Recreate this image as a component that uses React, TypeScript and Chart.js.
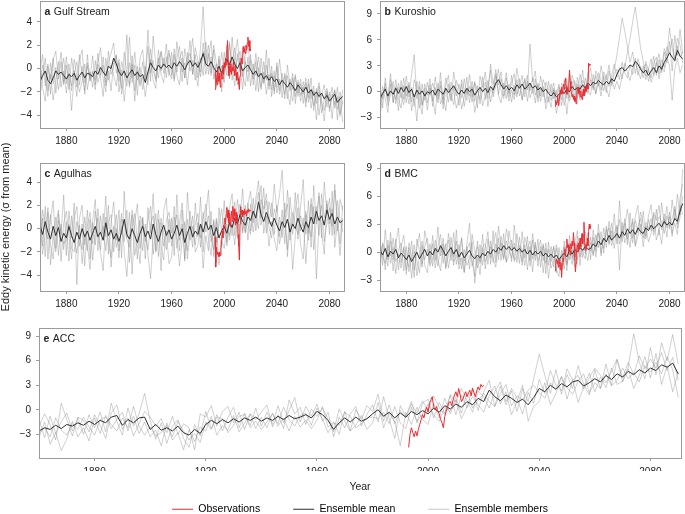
import React, { useEffect, useRef } from 'react';
import { Chart, registerables } from 'chart.js';

Chart.register(...registerables);

// ---------- axes / categories ----------
const YEARS = Array.from({ length: 116 }, (_, i) => 1860 + 2 * i);
const OBS_YEARS = Array.from({ length: 55 }, (_, i) => 1993 + 0.5 * i);
const X_TICKS = [1880, 1920, 1960, 2000, 2040, 2080];
const Y_TICKS_A = [-4, -2, 0, 2, 4];
const Y_TICKS_B = [-3, 0, 3, 6, 9];
const Y_TICKS_C = [-4, -2, 0, 2, 4];
const Y_TICKS_D = [-3, 0, 3, 6, 9];
const Y_TICKS_E = [-3, 0, 3, 6, 9];
const LEGEND_LABELS = ['Observations', 'Ensemble mean', 'Ensemble members'];

// ---------- a  Gulf Stream ----------
const GS_MEAN = [
  -1.1, -0.6, -0.2, -1.0, -1.3, -0.8, -0.2, -0.5, -0.3, -0.6,
  -0.9, -0.5, -0.7, -0.4, -1.0, -0.6, -0.3, -0.8, -0.4, -0.5,
  -0.7, -0.2, -0.5, 0.1, -0.3, -0.6, 0.2, 0.0, 0.9, 0.4,
  -0.3, -0.6, -0.2, -0.8, -0.4, -0.1, -0.6, -0.3, -0.7, -0.5,
  -1.2, -0.3, 0.5, 0.1, -0.2, 0.3, 0.0, 0.4, 0.1, 0.3,
  0.0, 0.5, 0.2, 0.6, 0.3, -0.1, 0.4, 0.7, 0.2, 0.5,
  0.1, 0.6, 1.3, 0.4, 0.2, 0.6, 0.1, -0.3, 0.2, -0.4,
  0.2, 0.8, 0.3, 1.0, 0.4, 0.0, 0.5, -0.2, 0.1, 0.3,
  -0.1, -0.5, -0.2, -0.7, -0.4, -0.9, -0.6, -1.0, -0.7, -1.1,
  -0.9, -1.4, -1.0, -1.3, -1.6, -1.2, -1.5, -1.9, -1.4, -1.7,
  -2.0, -1.6, -2.1, -1.8, -2.3, -2.0, -2.4, -2.1, -2.6, -2.3,
  -2.8, -2.5, -2.2, -2.9, -2.6, -2.4,
];
const GS_M1 = [
  -0.3, 1.2, -1.5, 0.4, -2.2, 0.8, 1.5, -0.9, 0.6, -1.4,
  0.3, -1.8, 0.9, -0.6, -2.4, 0.7, 1.6, -1.2, 0.2, -0.8,
  1.1, -1.4, 0.5, 1.8, -0.9, -2.0, 0.6, 1.3, 2.2, -0.4,
  0.8, -1.7, 1.4, -0.5, 2.7, -1.2, 0.3, -2.3, 0.9, 1.6,
  -0.7, 1.9, -1.1, 2.8, 0.4, -0.8, 1.5, 0.2, 2.1, -0.6,
  1.4, -0.9, 2.3, 0.5, -1.1, 1.7, 0.3, 2.4, -0.5, 1.2,
  -0.8, 1.9, 5.3, 0.7, 2.0, -0.4, 1.6, -1.2, 0.8, -0.9,
  1.4, -0.6, 2.1, 0.4, -1.5, 1.3, -0.3, 1.8, 0.5, -1.1,
  1.2, -1.4, 0.6, -2.0, 0.9, -1.2, 1.6, -1.8, 0.2, -2.2,
  0.5, -1.9, -0.4, -2.6, 0.3, -1.5, -2.8, -0.7, -2.1, -0.9,
  -3.0, -1.2, -2.5, -0.8, -3.6, -1.7, -4.0, -2.2, -1.4, -3.3,
  -2.0, -4.3, -1.8, -3.5, -2.4, -4.6,
];
const GS_M2 = [
  -2.3, -0.8, 0.9, -1.9, -0.5, -2.7, -1.0, 0.6, -1.6, -0.2,
  -2.1, -0.4, -1.5, 0.8, -0.7, -2.0, -1.1, 0.4, -1.8, -0.3,
  -1.6, 0.7, -1.2, -0.4, 1.0, -1.5, -0.2, -1.9, 0.5, 1.2,
  -2.0, -0.1, -2.8, -0.6, -1.4, 1.1, -1.9, -0.2, -1.5, -0.7,
  -2.4, -0.6, 0.8, -1.0, -1.7, 0.9, -0.5, -1.2, 1.0, -0.3,
  -0.9, 1.2, -0.6, -1.4, 0.9, -0.8, 1.4, -0.2, 0.7, -1.0,
  0.6, -0.7, 1.5, -0.5, 0.9, 2.4, -0.9, 0.4, -1.3, 0.2,
  -1.2, 2.0, -0.8, 0.6, 1.8, -1.4, 0.9, -0.6, -1.5, 1.0,
  -1.5, 0.4, -1.9, 0.1, -1.6, -0.3, -2.2, -0.5, -1.8, -0.2,
  -2.1, -0.9, -2.5, -0.4, -2.0, -3.1, -0.8, -2.4, -1.2, -2.8,
  -1.1, -2.9, -1.3, -3.4, -1.9, -3.0, -1.5, -3.8, -2.6, -1.7,
  -3.7, -2.2, -3.1, -1.6, -3.9, -2.9,
];
const GS_M3 = [
  0.6, -1.7, -2.8, 0.2, -0.9, 0.9, -2.1, -0.3, 1.4, -1.2,
  1.0, -0.9, -3.6, -0.5, 0.6, -1.4, 0.2, -2.2, 1.2, -1.0,
  -0.3, -1.8, 0.4, -0.8, -2.4, 0.9, -1.0, 0.3, -0.6, -1.5,
  0.5, -2.2, -0.9, 2.9, -1.6, 0.4, -2.8, 0.2, -1.3, 0.6,
  -1.0, 3.3, -0.4, 0.7, -1.1, 1.6, -0.2, 0.9, -0.8, 1.3,
  0.4, -1.1, 0.9, 1.9, -0.3, 0.5, -1.4, 0.8, 2.6, -0.2,
  -1.5, 0.9, -0.6, 2.3, -0.5, 1.0, -0.2, -1.6, 1.1, -2.0,
  -0.4, 0.5, 2.3, -1.0, 0.9, 2.5, 0.1, -1.8, 1.2, 2.0,
  0.1, -0.9, 1.3, -0.4, -1.8, 0.6, -1.0, 0.9, -2.4, -0.6,
  -1.6, 0.8, -1.2, -2.2, -0.6, -1.9, -0.4, -3.0, -1.0, -2.3,
  -1.6, -3.3, -0.9, -2.6, -1.5, -4.4, -2.0, -3.0, -4.5, -1.9,
  -2.7, -1.6, -3.4, -2.4, -4.1, -1.8,
];
const GS_M4 = [
  -1.6, 0.3, -0.7, -2.4, 0.5, -1.3, 0.1, -1.8, -0.4, 0.9,
  -1.3, 0.4, -1.9, -0.2, -1.6, 1.2, -0.6, -1.9, 0.5, -1.1,
  -0.2, -1.0, 1.3, -0.6, 0.3, -1.2, 1.5, -0.5, 0.2, 1.1,
  -1.1, 0.6, -0.4, -1.5, 0.5, -0.8, 1.4, -1.0, 0.1, -1.8,
  0.2, -1.4, 1.7, -0.2, -0.9, 0.6, 1.4, -0.4, 0.5, 1.6,
  -0.6, 1.7, -0.3, 0.8, 1.5, -0.8, 0.9, 1.3, -0.5, 1.8,
  0.7, -0.3, 2.2, 0.2, 1.3, -0.6, 2.0, 0.5, -0.5, 1.4,
  -0.2, 1.6, -0.9, 2.7, -0.1, 0.8, 1.5, -0.7, 0.6, -0.3,
  0.7, 0.2, -0.6, 1.0, -0.8, -1.3, 0.3, -1.5, -0.4, -1.9,
  0.2, -2.2, -1.4, -0.6, -2.6, -0.9, -1.8, -0.5, -2.4, -1.3,
  -2.2, -0.8, -2.9, -1.8, -3.2, -2.4, -1.2, -2.8, -3.6, -2.1,
  -3.4, -2.4, -1.9, -4.4, -2.0, -3.0,
];
const GS_OBS = [
  -1.8, -0.3, -0.9, -1.4, 0.1, -0.6, -1.1, -0.4, -1.6, -1.0,
  -0.2, -0.9, 0.3, -0.5, 0.5, 0.1, 0.9, 0.3, 1.4, 2.4,
  0.6, -0.6, 0.2, -0.3, 0.4, -0.5, 0.1, -0.2, 0.6, -0.1,
  -0.6, 0.2, -0.4, -1.0, -0.3, -0.8, -1.3, -1.8, -0.6, 0.3,
  0.9, 0.4, 1.1, 1.9, 1.4, 1.7, 1.3, 2.0, 1.6, 2.2,
  2.7, 1.9, 2.4, 1.5, 1.7,
];

// ---------- b  Kuroshio ----------
const KU_MEAN = [
  -0.8, -0.2, 0.3, -0.5, 0.1, -0.3, 0.4, -0.2, 0.5, 0.0,
  0.6, -0.1, 0.3, -0.6, 0.2, -0.3, 0.1, -0.5, 0.0, -0.2,
  0.2, -0.4, 0.3, 0.0, -0.3, 0.4, -0.1, 0.3, 0.7, 0.1,
  -0.3, 0.2, -0.2, 0.4, 0.0, 0.3, -0.4, 0.1, 0.5, 0.0,
  0.4, -0.1, 0.6, 0.2, 1.0, 1.4, 0.8, 0.3, 0.7, 0.2,
  0.5, 0.1, 0.8, 0.4, 0.9, 0.3, 0.6, 1.0, 0.4, 0.7,
  0.2, 0.5, 0.0, 0.3, -0.2, -0.5, -0.1, -0.6, -0.3, 0.0,
  -0.2, 0.3, 0.0, 0.6, 0.2, 0.5, 0.3, 0.8, 0.4, 1.0,
  0.7, 1.1, 0.9, 1.3, 1.0, 0.8, 1.2, 0.9, 1.5, 1.2,
  2.0, 2.6, 2.8, 2.4, 2.7, 3.1, 2.9, 3.5, 3.2, 2.6,
  2.2, 2.5, 1.9, 2.4, 2.8, 2.2, 3.0, 2.6, 3.4, 3.9,
  4.5, 4.0, 3.6, 4.8, 4.1, 3.8,
];
const KU_M1 = [
  0.8, -1.9, 1.6, -0.7, 2.1, -1.3, 0.6, -2.2, 1.3, -0.9,
  1.8, -0.6, 2.0, 4.3, -0.8, 1.2, -1.6, 0.9, -0.4, 1.5,
  -1.1, 1.7, -0.5, 2.2, -1.4, 0.8, 1.9, -0.9, 2.3, 0.3,
  -1.6, 1.4, 0.2, -1.0, 2.0, -0.6, 1.2, -1.9, 1.8, 0.5,
  2.3, -0.8, 3.2, 0.9, 2.6, -0.3, 1.5, 0.4, 2.2, -0.6,
  1.9, -0.4, 2.7, 0.8, -0.9, 1.6, 0.2, 5.5, 1.1, 2.4,
  -0.7, 1.8, 0.3, -1.3, 1.2, -0.2, 1.0, -1.5, 0.6, -0.9,
  1.4, -0.8, 2.1, 0.4, -1.2, 1.7, 0.2, 2.5, -0.3, 1.6,
  2.8, 0.2, 1.9, 0.6, 3.0, 1.2, -0.1, 2.4, 1.0, 2.6,
  4.2, 6.3, 8.5, 7.0, 5.2, 3.4, 4.6, 2.1, 3.8, 2.7,
  1.6, 3.2, 1.2, 2.5, 4.1, 1.9, 3.7, 2.2, 4.6, 3.3,
  5.8, 2.4, 6.5, 4.2, 7.2, 4.4,
];
const KU_M2 = [
  -1.7, 0.6, -0.9, -2.4, 0.9, -1.2, 1.4, -0.8, -1.9, 0.7,
  -1.3, 1.1, -2.2, -0.4, -3.4, 0.6, -1.5, -0.2, -2.1, 0.4,
  -0.8, -2.6, 1.0, -1.4, -0.6, -2.2, 0.9, -0.3, -1.5, 1.3,
  0.4, -2.0, -0.6, 1.7, -1.3, 0.6, -2.4, -0.8, 0.5, -1.6,
  -0.5, 1.3, -1.2, 0.4, 2.1, -0.4, -1.3, 1.0, -0.8, 0.9,
  -1.2, 0.7, -0.6, 1.5, -1.0, 0.5, 1.9, -0.7, 0.3, -1.3,
  1.0, -1.1, 0.6, -2.0, -0.6, -1.8, 0.4, -2.5, -1.0, 0.6,
  -1.6, 0.8, -1.1, -0.2, 1.3, -0.8, 0.7, -0.5, 1.6, 0.1,
  -0.4, 2.0, -0.2, 1.1, -0.5, 1.8, 0.4, -0.6, 1.5, 0.3,
  1.2, 0.3, 1.8, 2.9, 4.5, 6.2, 8.1, 9.8, 7.4, 5.1,
  3.5, 1.8, 2.7, 1.1, 2.0, 3.4, 1.5, 2.9, 2.3, 4.0,
  3.0, -1.0, 2.6, 3.9, 2.2, 3.1,
];
const KU_M3 = [
  0.2, -0.8, 1.0, -1.6, -0.3, 1.2, -1.4, 0.5, -0.7, 1.6,
  -0.5, 0.8, -1.2, 1.4, 0.1, -1.9, 0.9, -1.0, 1.1, -0.4,
  1.0, 0.1, -1.3, 1.2, -0.8, 1.6, 0.3, -1.1, 0.6, -0.5,
  0.9, -0.7, 1.5, -0.3, 0.6, -1.2, 1.0, 0.2, -0.9, 1.7,
  -0.9, 0.6, 2.5, -0.6, 0.7, 2.6, 0.1, -0.8, 1.6, -0.2,
  1.0, 2.1, -0.3, 0.6, 1.9, -0.6, 1.2, 0.1, 1.6, -0.4,
  0.8, -0.5, 1.4, 0.5, -1.2, 0.9, -0.8, 0.2, -1.4, 1.0,
  0.3, 1.5, -0.7, 1.9, 0.7, -0.4, 2.0, 0.6, -0.3, 2.2,
  1.2, 0.4, 2.4, 1.6, 0.2, 2.3, 1.4, 3.1, 0.7, 2.0,
  2.6, 1.4, 3.4, 2.2, 1.6, 3.0, 2.0, 3.9, 2.4, 1.5,
  3.0, 1.4, 2.6, 3.8, 1.9, 3.2, 4.4, 2.5, 5.0, 4.1,
  7.4, 5.0, 3.8, 6.2, 5.4, 3.3,
];
const KU_M4 = [
  -2.9, -0.4, 0.5, -1.1, 1.4, 0.2, -0.9, 1.0, -0.3, -1.5,
  0.6, -1.4, 0.5, -1.7, 1.2, -0.9, -2.6, 0.4, -1.3, 0.8,
  -1.7, 0.5, -0.9, 0.7, -2.0, 0.3, -1.2, 1.1, 0.0, -1.9,
  -0.8, 0.9, -1.7, 0.3, -0.5, 1.2, -1.1, 0.7, -1.4, 0.2,
  1.1, -1.7, 0.3, -0.2, 1.8, 0.8, 2.3, -0.5, 0.4, -1.1,
  0.2, -0.9, 1.4, -0.5, 0.7, 1.3, -1.1, 0.9, -0.2, 1.5,
  -1.2, 0.4, -0.6, 1.1, 0.3, -1.0, 0.2, -0.4, 0.9, -1.6,
  0.5, -2.6, 0.4, 1.2, -0.6, 0.9, -1.0, 1.3, 0.8, -0.2,
  1.4, 0.9, -0.3, 2.2, 1.3, 0.1, 2.0, 0.6, 1.9, 3.2,
  1.7, 2.8, 1.5, 3.3, 2.2, 1.3, 2.7, 3.6, 1.9, 2.9,
  2.1, 3.5, 2.4, 1.6, 3.3, 4.0, 2.1, 3.7, 2.8, 5.2,
  4.4, 6.1, 3.5, 5.3, 4.0, 4.6,
];
const KU_OBS = [
  -1.7, -1.0, -1.5, -1.2, -0.4, -1.6, -1.1, -0.5, 0.2, -0.3,
  0.5, -0.2, 0.4, 0.9, 0.3, 1.0, 1.6, 0.6, -0.3, 0.4,
  0.0, 0.8, 2.5, 1.2, 0.3, -0.1, -0.6, -0.3, -0.9, -0.5,
  -1.1, -0.7, -1.4, -0.4, 0.2, 0.5, -0.2, 0.3, -0.6, 0.1,
  -0.4, -0.9, -0.2, 0.3, -0.5, 0.1, 0.6, 0.0, 0.4, 0.8,
  0.3, 3.3, 3.0, 3.2, 3.1,
];

// ---------- c  Agulhas ----------
const AG_MEAN = [
  0.3, -0.5, 0.6, -0.3, -0.9, 0.2, -0.6, 0.1, -1.1, -0.4,
  -0.8, 0.2, -0.6, -1.2, -0.3, -0.9, 0.0, -0.7, -0.2, -1.0,
  -0.4, 0.2, -0.7, -0.3, -1.0, 0.5, -0.6, -0.1, -0.9, -0.4,
  -1.1, -0.3, 0.8, -0.5, -0.9, 0.0, -0.6, -1.2, -0.4, 0.2,
  -0.7, -0.2, -0.9, 0.4, -0.5, -1.1, -0.3, 0.3, -0.6, -0.1,
  -0.9, -0.4, 0.3, -0.6, 0.0, -1.2, -0.4, 0.2, -0.7, -0.2,
  -0.5, 0.4, -0.3, 0.6, -0.1, 0.3, -0.6, 0.1, -0.8, -0.2,
  0.2, -0.4, 0.5, 0.1, 0.9, 0.4, 1.2, 0.6, 0.3, 1.0,
  0.7, 1.5, 0.9, 2.3, 1.2, 0.6, 1.4, 0.8, 0.2, 0.9,
  0.3, -0.2, 0.6, 0.1, 0.8, -0.3, 0.4, 0.0, 0.9, 0.2,
  -0.3, 0.6, 0.1, 1.0, 0.4, 1.5, 0.7, 1.1, 0.3, 1.6,
  0.8, 1.3, 0.4, 1.0, 0.5, 0.7,
];
const AG_M1 = [
  2.8, -1.5, 1.9, -2.6, 0.8, 2.4, -1.7, 1.3, -0.5, 2.9,
  -2.3, 1.5, -0.8, 2.2, -4.8, 0.9, 2.0, -1.4, 1.6, -2.6,
  0.7, 2.5, -1.9, 1.1, -0.6, 2.8, -2.2, 0.5, 2.3, -1.0,
  1.6, -2.5, 3.2, -0.8, 1.4, -3.9, 0.6, 2.1, -1.7, 1.0,
  -2.6, 1.8, -0.4, 3.0, -1.9, 0.8, -3.6, 1.5, 2.6, -1.2,
  0.9, -2.3, 2.9, -1.0, 1.6, -2.8, 3.1, 0.3, -1.6, 2.2,
  -0.7, 2.7, -2.0, 1.3, 3.3, -1.1, 0.6, -2.9, 1.8, -0.3,
  2.4, -1.5, 1.8, 3.0, -0.6, 2.5, 0.9, 3.4, -0.3, 2.1,
  3.2, 0.5, 2.6, 4.1, 0.9, 3.5, -0.4, 2.3, 1.0, 3.8,
  1.4, 2.9, 5.0, 0.6, -1.8, 2.7, 0.2, 3.1, -0.9, 1.9,
  4.2, -0.5, 2.4, -1.6, 3.7, 0.4, 2.8, -0.8, 4.0, 1.3,
  2.6, -0.6, 3.3, 1.2, -1.3, 2.0,
];
const AG_M2 = [
  -1.2, 0.9, -2.4, 1.4, -3.1, -0.6, 1.0, -2.3, 0.4, -1.8,
  0.6, -2.8, 1.1, -0.9, -2.1, 0.3, -3.0, -0.5, -1.9, 0.8,
  -2.7, -0.4, 0.9, -2.1, -3.6, 1.0, -1.2, -2.5, 0.2, -1.6,
  -0.4, 1.3, -2.0, -4.1, -0.6, 1.2, -2.3, -0.8, 0.7, -1.9,
  0.4, -2.2, -4.3, -0.7, 1.3, -2.4, 0.5, -1.5, -0.2, -3.0,
  -2.5, 1.0, -0.8, -3.2, -1.1, 0.6, -2.6, -0.4, 1.1, -2.0,
  -1.4, 0.3, -3.4, -0.6, -1.9, 1.5, -2.4, 0.7, -3.1, -1.0,
  -1.7, 0.4, -1.0, 1.1, 2.3, -0.8, 1.6, -0.2, 2.0, 0.3,
  -0.5, 2.6, -0.2, 1.9, 3.7, -0.4, 1.1, -1.5, 0.6, -0.9,
  -1.9, 1.0, -0.8, 2.2, -2.4, 0.5, -3.5, -0.6, 1.8, -1.4,
  -2.6, 1.2, -1.0, 2.1, -1.8, 0.7, 3.1, -0.3, -2.2, 2.4,
  -0.5, 3.2, -1.6, 0.6, -2.3, 0.9,
];
const AG_M3 = [
  0.8, -2.2, -0.4, 1.8, -1.4, -2.6, 0.3, 1.6, -2.8, 0.5,
  1.5, -0.6, -2.6, 0.9, 1.9, -1.5, 0.4, -3.2, 0.2, 1.4,
  -1.3, 1.5, -0.4, -1.8, 1.3, -0.7, 2.0, -3.3, -0.4, 1.2,
  -1.9, 0.2, -1.1, 1.6, -2.9, 0.1, 1.3, -1.0, -3.0, 0.9,
  -1.1, 0.7, 1.9, -2.2, -0.3, 1.6, -1.5, -2.7, 0.7, 1.4,
  -0.4, 1.9, -1.7, 0.5, 2.2, -0.6, -1.9, 1.5, -0.8, 0.4,
  1.3, -1.6, 0.8, 2.1, -0.9, -2.3, 0.8, -1.2, 0.3, 1.7,
  -0.5, 1.9, -0.6, 0.4, -1.4, 1.0, 2.1, -0.4, 1.4, -1.0,
  2.1, -0.3, 1.2, 0.0, 2.5, 1.7, 3.0, 0.4, 2.2, -0.5,
  2.0, -0.7, 1.6, -1.3, 3.3, 1.0, -0.5, 1.5, 3.0, -0.2,
  0.9, -3.0, 0.2, -0.7, 1.9, -4.3, 0.5, 2.0, -1.1, 0.4,
  1.8, 0.2, 3.8, -0.2, 2.5, 1.6,
];
const AG_M4 = [
  -2.5, 1.6, 0.2, -0.9, 1.2, -0.7, -2.0, 0.7, -0.3, -1.3,
  -1.0, 0.4, -1.7, -2.0, 0.6, -0.7, -1.8, 1.0, -1.3, -3.5,
  0.5, -1.4, 1.7, -0.5, 0.2, -1.9, 0.6, 1.2, -2.0, 0.0,
  -2.5, 0.8, 0.4, -0.9, -1.6, 1.6, -0.2, -2.6, 1.1, 0.4,
  -0.6, -1.8, 0.3, 1.1, -2.0, -0.5, 0.9, -0.4, -1.8, 0.8,
  -1.5, 0.1, 1.2, -1.9, 0.4, -2.6, 0.8, -1.0, 0.2, -1.4,
  0.5, -0.8, 1.4, -0.3, 1.1, -0.7, -1.8, 0.9, -0.4, -1.6,
  0.9, -1.2, 0.8, -0.6, 1.7, 0.3, 0.5, 1.4, -0.4, 2.2,
  -0.2, 1.2, 2.0, 3.1, 0.3, 1.6, 2.4, 0.1, -0.8, 1.7,
  0.6, -1.3, 0.0, 1.3, 2.1, -1.0, 1.4, 0.3, -0.5, 1.1,
  0.1, 1.5, -0.4, 2.6, 0.7, 1.9, -0.6, 3.0, 0.9, 2.1,
  0.4, 1.7, -0.5, 2.4, 0.8, -0.3,
];
const AG_OBS = [
  -0.7, -3.3, -1.6, -2.0, -2.2, -2.1, -2.4, -2.0, -2.3, -1.6,
  -1.0, -0.2, -0.8, 0.3, 0.0, 0.9, 0.4, 1.2, 1.8, 0.9,
  1.6, 0.5, 1.3, 0.2, 1.0, 1.5, 0.6, 1.9, 0.8, 1.7,
  1.1, 0.3, 1.4, 0.6, 1.2, -0.5, -1.5, -2.7, 0.4, 1.9,
  1.2, 1.6, 1.0, 1.5, 1.2, 1.7, 1.3, 1.5, 1.1, 1.6,
  1.4, 1.7, 1.5, 1.6, 1.5,
];

// ---------- d  BMC ----------
const BMC_MEAN = [
  0.2, -0.3, 0.4, -0.5, 0.1, -0.2, 0.3, -0.6, -0.1, -0.4,
  -0.8, -0.3, -1.0, -0.5, 0.0, -0.7, -0.2, 0.3, -0.4, 0.1,
  -0.3, 0.4, 0.0, 0.7, 0.2, -0.4, 0.1, 0.5, -0.2, 0.3,
  -0.5, 0.0, -0.6, -0.2, 0.2, -0.4, -0.7, -0.3, -0.6, -0.1,
  -0.4, 0.1, -0.2, 0.3, 0.0, 0.5, 0.2, 0.7, 0.3, 0.6,
  0.2, 0.5, 0.1, 0.4, 0.0, 0.3, -0.2, 0.2, -0.3, 0.1,
  -0.2, 0.1, -0.4, -0.1, -0.5, -0.2, -0.6, -0.3, -0.8, -0.4,
  -0.1, -0.5, 0.2, -0.2, 0.3, 0.0, 0.5, 0.2, 0.6, 0.3,
  0.4, 0.9, 0.6, 1.2, 0.8, 1.5, 1.1, 1.8, 1.3, 1.6,
  2.0, 1.5, 2.2, 1.8, 2.5, 2.0, 2.4, 1.9, 2.6, 2.2,
  2.0, 2.6, 2.3, 2.9, 2.5, 2.8, 3.1, 2.7, 3.3, 2.9,
  3.2, 2.9, 3.6, 3.3, 4.4, 5.2,
];
const BMC_M1 = [
  1.5, -1.4, 2.4, -0.8, 1.2, -2.0, 0.9, 2.6, -1.1, 0.6,
  -2.4, 1.0, -0.5, -2.7, 1.4, 0.2, -1.6, 2.3, 0.8, -1.2,
  1.8, -0.9, 2.7, -0.4, 1.5, -1.8, 2.0, 0.3, -1.4, 2.4,
  -1.3, 1.6, -2.1, 0.9, 3.1, -0.9, -2.6, 1.2, -1.0, 1.9,
  -1.8, 1.4, -0.6, 2.3, -1.1, 2.8, 0.6, -0.8, 2.5, 1.0,
  -1.0, 2.9, 0.4, -1.2, 2.2, -0.6, 1.7, -1.5, 1.3, -0.9,
  1.4, -1.6, 0.9, -2.3, 1.1, -1.0, 0.7, -2.2, 0.5, -1.7,
  1.2, -2.0, 1.8, -0.7, 1.0, 2.3, -1.4, 1.9, -0.2, 2.1,
  -0.8, 2.4, 0.1, 3.0, -0.4, 2.6, 0.5, 3.3, 1.2, 4.1,
  0.9, 5.5, 1.6, 3.6, 0.8, 4.2, 1.5, 3.8, 5.0, 1.9,
  4.4, 1.7, 3.9, 5.1, 2.2, 4.6, 1.8, 5.3, 3.0, 4.9,
  2.5, 5.6, 3.4, 6.2, 4.0, 8.9,
];
const BMC_M2 = [
  -0.9, 0.8, -1.9, 1.3, -1.2, 0.5, -2.3, 0.2, 1.0, -2.0,
  0.6, -2.1, -0.7, 0.8, -2.5, -0.4, 1.2, -1.4, -2.2, 0.9,
  -1.5, 1.3, -0.8, -2.0, 0.9, -1.6, -0.3, 1.6, -1.0, -0.5,
  0.8, -1.8, 0.3, -1.4, -0.7, 1.1, -3.3, -0.5, -2.4, 0.6,
  0.9, -1.3, 1.2, -0.7, -1.6, 1.5, -0.9, 2.0, -1.1, -0.2,
  1.3, -1.0, -0.4, 1.6, -1.4, 0.8, -1.9, 0.6, -2.1, 1.1,
  -1.5, 0.6, -2.2, 0.4, -2.8, -0.6, 0.5, -1.8, -2.6, 0.2,
  -1.8, 0.8, -0.8, 0.3, -1.6, 1.1, -0.5, 1.5, 0.2, -0.9,
  1.6, -0.2, 1.9, 0.5, 2.2, -0.1, 2.8, 0.8, 2.3, 0.4,
  2.7, -1.9, 3.2, 1.0, 2.1, 0.5, 3.6, 0.6, 1.7, 3.0,
  0.6, 2.8, 1.1, 2.0, 4.0, 1.3, 2.4, 0.9, 3.6, 1.6,
  4.3, 2.0, 3.1, 1.9, 5.0, 4.0,
];
const BMC_M3 = [
  -1.8, 1.0, 0.3, -1.5, 2.1, -0.8, 1.4, -1.9, 0.5, 1.8,
  -0.7, -1.6, 1.2, -1.9, 0.4, 2.0, -1.3, 0.6, 1.5, -0.8,
  0.9, -1.7, 0.6, 1.9, -1.2, 0.7, 1.3, -0.9, 2.1, -1.3,
  0.3, 1.4, -1.0, 0.6, -1.8, 1.9, 0.2, -1.7, 0.8, -1.4,
  0.6, 2.2, -1.3, 1.0, 2.1, -0.8, 1.7, 0.1, -1.0, 2.3,
  0.5, -0.8, 2.0, 0.1, -1.0, 1.6, 0.5, -0.9, 2.0, -0.4,
  0.2, 1.3, -0.9, 1.0, -1.4, 0.6, -1.6, 0.8, -0.6, -1.9,
  0.4, -1.2, 1.0, 0.6, -0.9, 1.7, 0.8, -0.6, 2.2, 1.0,
  0.1, 1.6, -0.5, 2.0, 1.3, 0.4, 2.5, 1.0, 3.1, 1.5,
  1.8, 3.5, 1.1, 2.8, 4.6, 2.4, 1.0, 3.4, 2.1, 4.3,
  2.9, 1.4, 3.5, 2.3, 4.3, 3.4, 5.0, 2.4, 4.1, 2.6,
  3.8, 1.7, 4.9, 3.0, 5.8, 7.3,
];
const BMC_M4 = [
  0.9, -0.5, -1.2, 0.7, -0.4, 1.5, -1.0, -0.2, -1.7, 0.4,
  -1.9, 0.5, -2.8, 0.1, -0.9, -2.2, 0.7, -0.8, 0.3, -1.5,
  -0.6, 0.4, -1.5, 0.6, -0.3, 0.9, -1.7, 0.2, -0.5, 1.2,
  -1.8, -0.6, -2.2, 0.3, 1.0, -1.5, -0.3, 0.6, -1.2, 0.4,
  -1.0, -0.4, 0.6, -1.1, 0.9, -0.2, 1.0, -0.6, 1.2, 0.2,
  -0.6, 1.0, -1.1, 0.7, 0.3, -1.4, 0.3, 1.2, -0.7, 0.8,
  -0.9, -0.3, 0.7, -1.2, 0.3, -1.7, -0.9, 0.4, -1.3, -0.6,
  0.6, -1.4, -0.1, -1.3, 0.8, -0.8, 1.2, 0.0, -0.7, 1.4,
  0.9, -0.4, 1.2, 2.1, -0.1, 1.4, 1.8, 2.6, 0.7, 2.0,
  2.9, 0.9, 2.3, 3.1, 1.4, 2.7, 3.2, 0.8, 2.8, 3.6,
  1.5, 3.2, 2.5, 3.6, 1.8, 2.9, 3.8, 3.3, 2.0, 3.9,
  2.8, 3.6, 4.6, 2.6, 3.7, 6.0,
];
const BMC_OBS = [
  -2.0, -1.4, -0.7, -1.2, -0.9, -1.6, -0.8, -1.3, -1.9, -1.1,
  -2.7, -1.4, -0.6, -1.0, -0.2, 0.3, -0.4, 0.6, 1.4, 0.5,
  0.8, 0.1, 0.6, -0.3, 0.9, 0.4, 1.2, 0.7, 2.1, 1.0,
  -0.5, -2.1, -1.2, 0.2, 0.8, 0.1, 1.0, 0.4, 1.5, 0.6,
  1.3, 2.0, 0.9, 1.8, 3.2, 1.1, 0.2, 0.9, 0.4, 1.5,
  0.7, 2.2, 3.0, 2.5, 2.8,
];

// ---------- e  ACC ----------
const ACC_MEAN = [
  -2.6, -2.2, -2.4, -1.9, -2.3, -1.8, -2.0, -1.6, -1.9, -1.4,
  -1.8, -1.3, -1.6, -0.9, -0.7, -1.9, -1.2, -1.6, -1.0, -0.9,
  -2.4, -1.8, -2.5, -2.2, -2.6, -2.0, -2.8, -3.1, -2.4, -2.9,
  -1.8, -1.3, -1.7, -1.2, -1.6, -1.1, -1.5, -1.0, -1.3, -0.9,
  -1.4, -1.0, -1.3, -0.8, -1.2, -0.7, -1.1, -0.9, -0.6, -1.0,
  -0.2, -0.6, -1.3, -2.4, -1.6, -1.0, -1.5, -0.9, -1.4, -1.1,
  -0.5, 0.0, -0.8, -0.3, -1.0, -0.4, -0.9, -0.2, -0.6, -0.1,
  -0.5, 0.2, -0.3, 0.5, 0.1, 0.7, 0.3, 1.0, 0.6, 1.4,
  1.0, 2.4, 1.6, 1.1, 1.8, 1.4, 0.9, 1.3, 0.6, 1.5,
  2.6, 2.2, 3.0, 2.5, 3.2, 2.8, 3.4, 3.6, 2.9, 3.3,
  3.8, 3.4, 4.2, 3.7, 4.4, 4.0, 4.7, 4.3, 4.9, 4.5,
  5.1, 4.8, 5.5, 5.2, 5.7, 4.4,
];
const ACC_M1 = [
  -1.2, -3.4, -0.8, -2.9, -1.5, -0.4, -2.6, -1.0, -3.0, -0.6,
  -2.2, -0.3, -2.7, 0.8, -1.4, -3.1, 0.2, -2.0, -0.5, 2.0,
  -1.3, -3.6, -1.6, -4.1, -2.0, -1.2, -3.5, -4.6, -1.8, -3.2,
  -0.2, -2.3, -0.6, -2.6, -0.9, 0.3, -2.2, -0.4, -1.9, 0.2,
  -2.0, -0.3, -1.8, 0.5, -1.6, -0.1, 1.5, -1.5, 0.4, -0.8,
  0.7, -1.4, -0.3, -3.3, -0.9, -2.2, -0.5, 0.4, -2.0, -0.6,
  0.6, -1.5, 1.6, -1.1, -3.5, 0.5, -0.8, 1.0, -1.6, 0.8,
  1.3, -1.0, 0.9, -0.4, 1.7, -0.6, 1.8, 0.2, 2.7, -0.1,
  2.2, 3.6, 0.4, 2.9, 0.6, 2.3, -0.2, 2.6, 1.0, 3.8,
  6.8, 4.2, 2.0, 4.9, 1.9, 4.3, 2.6, 5.4, 3.1, 1.8,
  4.9, 2.6, 5.6, 3.0, 6.1, 3.4, 5.2, 9.3, 5.8, 3.8,
  7.6, 4.3, 8.2, 6.0, 9.2, 5.6,
];
const ACC_M2 = [
  -3.4, -1.5, -4.2, -2.8, -5.0, -3.6, -1.4, -3.3, -2.2, -3.8,
  -1.0, -2.9, -0.7, -2.3, -1.2, -0.3, -2.6, -0.8, -2.9, -1.5,
  -3.3, -2.5, -4.4, -1.6, -3.7, -2.8, -4.9, -2.4, -3.9, -2.1,
  -2.6, -0.8, -3.1, -1.9, -2.5, -0.7, -2.7, -1.6, -0.5, -2.3,
  -0.9, -2.2, -0.4, -2.0, -1.0, -2.6, -0.8, -2.1, -1.3, -2.3,
  -1.3, 0.4, -2.1, -1.5, -3.0, -0.2, -2.6, -1.9, -0.7, -2.4,
  -1.6, 0.9, -2.2, -0.4, -1.5, -4.4, -0.3, -1.8, 0.3, -1.2,
  -1.8, 0.8, -1.0, 1.4, -0.5, 1.2, -1.1, 0.4, 1.6, 0.6,
  -0.3, 1.7, 2.9, 0.7, 2.2, -0.6, 1.0, 3.0, -1.4, 0.4,
  1.0, 3.3, 0.6, 2.0, 4.1, 1.3, 3.7, 0.9, 2.8, 4.5,
  2.2, 4.0, 2.7, 5.1, 3.1, 3.5, 5.0, 2.6, 4.2, 6.5,
  3.9, 6.9, 3.1, 5.4, 2.2, 4.6,
];
const ACC_M3 = [
  -2.0, -0.5, -1.8, -3.7, 0.8, -1.2, -3.2, -0.9, -1.3, -2.7,
  -0.6, -1.9, -3.5, -0.4, 0.6, -2.4, -1.0, -3.2, -1.7, -0.2,
  -0.9, -2.0, -1.1, -2.8, -0.8, -3.0, -1.7, -2.2, -4.9, -0.5,
  -0.9, 0.5, -2.0, -0.2, 0.4, -1.6, -0.3, -2.4, -0.5, -1.2,
  -0.3, 0.6, -2.1, -0.6, -2.3, 1.2, -0.5, 0.3, -1.8, 0.1,
  -0.8, 0.2, -1.1, -2.7, 0.1, -1.4, -2.6, 0.0, -1.2, 0.5,
  -0.2, 1.9, -1.4, 0.6, -1.7, -0.1, -1.0, 0.7, -0.4, 1.1,
  -0.1, 1.7, 0.3, -0.6, 1.9, 0.9, 2.6, 1.1, -0.3, 2.3,
  1.6, 0.2, 2.2, 3.4, 1.0, 2.6, 1.4, -0.5, 2.1, 0.8,
  3.7, 2.0, 4.8, 3.0, 2.3, 5.0, 3.6, 4.2, 2.5, 3.9,
  5.1, 4.2, 3.3, 4.7, 6.2, 3.9, 5.8, 4.3, 6.6, 5.0,
  6.2, 5.1, 7.0, 4.8, 6.4, 3.6,
];
const ACC_M4 = [
  -2.9, -2.2, -3.3, -1.0, -2.5, -3.1, -1.7, -2.4, -0.9, -2.1,
  -3.1, -1.2, -0.9, -1.8, -2.6, -1.0, -2.2, 0.4, -2.0, -3.1,
  -2.1, -3.2, -2.8, -1.9, -3.3, -1.4, -2.6, -3.7, -2.9, -4.0,
  -1.5, -2.4, -0.9, -1.1, -2.8, -1.9, -0.8, -0.6, -2.2, -1.4,
  -2.4, -1.5, -0.5, -1.7, 0.3, -1.2, -2.0, -0.7, -0.4, -1.9,
  0.2, -1.1, -2.8, -1.6, -1.9, -0.3, -0.8, -2.2, -1.7, -1.0,
  -0.9, -1.1, -0.3, -1.7, 0.4, -1.6, -2.3, 0.3, -1.4, -0.5,
  0.7, -0.6, -1.4, 0.3, -0.2, 1.5, -0.4, 2.1, 0.2, 1.1,
  2.0, 1.0, 0.4, 1.9, 3.1, 0.5, 1.7, 1.2, 2.4, 3.0,
  2.1, 1.4, 3.3, 2.6, 4.0, 2.7, 1.9, 3.5, 4.4, 2.1,
  3.3, 2.6, 4.4, 2.9, 3.6, 5.1, 3.8, 4.5, 3.4, 5.4,
  4.6, 5.8, 4.4, 6.5, 4.9, 1.5,
];
const ACC_OBS = [
  -4.6, -3.0, -2.2, -2.8, -3.3, -2.6, -3.2, -2.4, -1.8, -1.2,
  -0.6, -1.0, -0.2, 0.3, -0.3, 0.8, 1.2, 1.6, 0.4, 0.0,
  0.4, -0.2, -0.5, -1.2, -1.6, -2.2, -0.8, -0.2, 0.3, 0.9,
  1.0, 0.5, 1.2, 1.8, 2.2, 1.6, 2.6, 1.9, 1.0, 1.3,
  1.8, 2.2, 1.6, 2.0, 2.4, 1.7, 2.6, 2.1, 1.6, 2.3,
  2.8, 2.4, 3.1, 2.8, 3.0,
];

// ---------- style ----------
const FONT = "'Liberation Sans', Arial, Helvetica, sans-serif";
const AXIS_COLOR = '#9b9b9b';
const TEXT_COLOR = '#222222';
const OBS_COLOR = '#ec2a2f';
const MEAN_COLOR = '#2e2e2e';
const MEMBER_COLOR = 'rgba(125,125,125,0.36)';
const MEMBER_LEGEND_COLOR = '#c6c6c6';
const LEGEND_PAD = 33;
const LEGEND_FONT = 10.5;

type Area = { l: number; t: number; r: number; b: number };
type PanelSpec = {
  key: string;
  letter: string;
  name: string;
  area: Area;
  yMin: number;
  yMax: number;
  yTicks: number[];
  mean: number[];
  members: number[][];
  obs: number[];
  yW: number;
  padTop: number;
  yTitle?: string;
  xTitle?: string;
  legend?: boolean;
};

const PANELS: PanelSpec[] = [
  { key: 'a', letter: 'a', name: 'Gulf Stream', area: { l: 40, t: 1, r: 344, b: 128 }, yMin: -5.1, yMax: 5.8, yTicks: Y_TICKS_A,
    mean: GS_MEAN, members: [GS_M1, GS_M2, GS_M3, GS_M4], obs: GS_OBS, yW: 40, padTop: 13 },
  { key: 'b', letter: 'b', name: 'Kuroshio', area: { l: 380, t: 1, r: 684, b: 128 }, yMin: -4.2, yMax: 10.5, yTicks: Y_TICKS_B,
    mean: KU_MEAN, members: [KU_M1, KU_M2, KU_M3, KU_M4], obs: KU_OBS, yW: 40, padTop: 13 },
  { key: 'c', letter: 'c', name: 'Agulhas', area: { l: 40, t: 163, r: 344, b: 291 }, yMin: -5.35, yMax: 5.63, yTicks: Y_TICKS_C,
    mean: AG_MEAN, members: [AG_M1, AG_M2, AG_M3, AG_M4], obs: AG_OBS, yW: 40, padTop: 45,
    yTitle: 'Eddy kinetic energy (\u03C3 from mean)' },
  { key: 'd', letter: 'd', name: 'BMC', area: { l: 380, t: 163, r: 684, b: 291 }, yMin: -4.15, yMax: 9.54, yTicks: Y_TICKS_D,
    mean: BMC_MEAN, members: [BMC_M1, BMC_M2, BMC_M3, BMC_M4], obs: BMC_OBS, yW: 40, padTop: 13 },
  { key: 'e', letter: 'e', name: 'ACC', area: { l: 39, t: 328, r: 681, b: 458 }, yMin: -5.9, yMax: 10.0, yTicks: Y_TICKS_E,
    mean: ACC_MEAN, members: [ACC_M1, ACC_M2, ACC_M3, ACC_M4], obs: ACC_OBS, yW: 39, padTop: 13,
    xTitle: 'Year', legend: true },
];

const fmtTick = (v: number) => (v < 0 ? '\u2212' + Math.abs(v) : String(v));
const toXY = (xs: number[], ys: number[]) => ys.map((y, i) => ({ x: xs[i], y }));

const panelLabelPlugin = {
  id: 'panelLabel',
  afterDraw(chart: any, _args: any, opts: any) {
    const { ctx, chartArea } = chart;
    ctx.save();
    ctx.fillStyle = TEXT_COLOR;
    ctx.textAlign = 'left';
    ctx.textBaseline = 'alphabetic';
    const x = chartArea.left + 4.5;
    const y = chartArea.top + 13.5;
    ctx.font = `bold 10.5px ${FONT}`;
    ctx.fillText(opts.letter, x, y);
    const w = ctx.measureText(opts.letter).width;
    ctx.font = `10.5px ${FONT}`;
    ctx.fillText(opts.name, x + w + 3.5, y);
    ctx.restore();
  },
};

const framePlugin = {
  id: 'frame',
  afterDatasetsDraw(chart: any) {
    const { ctx, chartArea: a } = chart;
    ctx.save();
    ctx.strokeStyle = AXIS_COLOR;
    ctx.lineWidth = 1;
    ctx.strokeRect(a.left + 0.5, a.top + 0.5, a.right - a.left, a.bottom - a.top);
    ctx.restore();
  },
};

function Panel({ spec }: { spec: PanelSpec }) {
  const ref = useRef<HTMLCanvasElement | null>(null);
  const padTop = spec.padTop;
  const padRight = 16;
  // x axis block height; for the legend panel the legend items sit at 504px on the page
  const xH = spec.legend ? 504 - LEGEND_PAD - spec.area.b : 20;
  const legendH = spec.legend ? LEGEND_FONT + LEGEND_PAD + 10 : 0;
  const padBottom = spec.legend ? 0.5 : 6;
  const left = spec.area.l - spec.yW;
  const top = spec.area.t - padTop;
  const width = spec.area.r + padRight - left;
  const height = Math.round(spec.area.b + xH + legendH + padBottom - top);
  const titleBottomPad = spec.area.b + xH - 6.3 - 487;

  useEffect(() => {
    if (!ref.current) return;
    const datasets: any[] = [
      { label: LEGEND_LABELS[0], data: toXY(OBS_YEARS, spec.obs), borderColor: OBS_COLOR, borderWidth: 1 },
      { label: LEGEND_LABELS[1], data: toXY(YEARS, spec.mean), borderColor: MEAN_COLOR, borderWidth: 1 },
      ...spec.members.map((m, i) => ({
        label: `${LEGEND_LABELS[2]} ${i + 1}`,
        data: toXY(YEARS, m),
        borderColor: MEMBER_COLOR,
        borderWidth: 1,
      })),
    ];
    const legendColors = [OBS_COLOR, MEAN_COLOR, MEMBER_LEGEND_COLOR];
    const chart = new Chart(ref.current, {
      type: 'line',
      data: { datasets },
      plugins: [framePlugin, panelLabelPlugin],
      options: {
        responsive: false,
        animation: false,
        events: [],
        layout: { padding: { left: 0, top: padTop, right: padRight, bottom: padBottom } },
        elements: { point: { radius: 0 }, line: { tension: 0 } },
        plugins: {
          tooltip: { enabled: false },
          panelLabel: { letter: spec.letter, name: spec.name },
          legend: spec.legend
            ? {
                display: true,
                position: 'bottom',
                fullSize: false,
                align: 'center',
                onClick: () => {},
                labels: {
                  boxWidth: 21,
                  boxHeight: 1,
                  padding: LEGEND_PAD,
                  color: TEXT_COLOR,
                  font: { family: FONT, size: LEGEND_FONT },
                  generateLabels: () =>
                    LEGEND_LABELS.map((t, i) => ({
                      text: t,
                      fillStyle: legendColors[i],
                      strokeStyle: legendColors[i],
                      lineWidth: 0,
                      hidden: false,
                      datasetIndex: i,
                    })),
                },
              }
            : { display: false },
        } as any,
        scales: {
          x: {
            type: 'linear',
            min: 1860,
            max: 2091,
            afterBuildTicks: (s: any) => {
              s.ticks = X_TICKS.map((v) => ({ value: v }));
            },
            afterFit: (s: any) => {
              s.height = xH;
            },
            grid: { display: true, drawOnChartArea: false, drawTicks: true, tickLength: 3, color: AXIS_COLOR },
            border: { display: false },
            ticks: {
              padding: spec.legend ? 5 : 4,
              autoSkip: false,
              maxRotation: 0,
              color: TEXT_COLOR,
              font: { family: FONT, size: 10 },
              callback: (v: any) => String(v),
            },
            title: spec.xTitle
              ? { display: true, text: spec.xTitle, color: TEXT_COLOR, font: { family: FONT, size: 10.5 }, padding: { top: 0, bottom: titleBottomPad } }
              : { display: false },
          },
          y: {
            type: 'linear',
            min: spec.yMin,
            max: spec.yMax,
            afterBuildTicks: (s: any) => {
              s.ticks = spec.yTicks.map((v) => ({ value: v }));
            },
            afterFit: (s: any) => {
              s.width = spec.yW;
            },
            grid: { display: true, drawOnChartArea: false, drawTicks: true, tickLength: 3, color: AXIS_COLOR },
            border: { display: false },
            ticks: {
              padding: 5,
              autoSkip: false,
              color: TEXT_COLOR,
              font: { family: FONT, size: 10 },
              callback: (v: any) => fmtTick(Number(v)),
            },
            title: spec.yTitle
              ? { display: true, text: spec.yTitle, color: TEXT_COLOR, font: { family: FONT, size: 11 }, padding: { top: -1, bottom: 0 } }
              : { display: false },
          },
        } as any,
      },
    } as any);
    return () => chart.destroy();
  }, [spec]);

  return (
    <canvas
      ref={ref}
      width={width}
      height={height}
      style={{ position: 'absolute', left, top, width, height, display: 'block' }}
    />
  );
}

export default function App() {
  return (
    <div
      style={{
        position: 'fixed',
        left: 0,
        top: 0,
        width: 685,
        height: 514,
        overflow: 'hidden',
        background: '#ffffff',
        fontFamily: FONT,
      }}
    >
      {PANELS.map((p) => (
        <Panel key={p.key} spec={p} />
      ))}
    </div>
  );
}
